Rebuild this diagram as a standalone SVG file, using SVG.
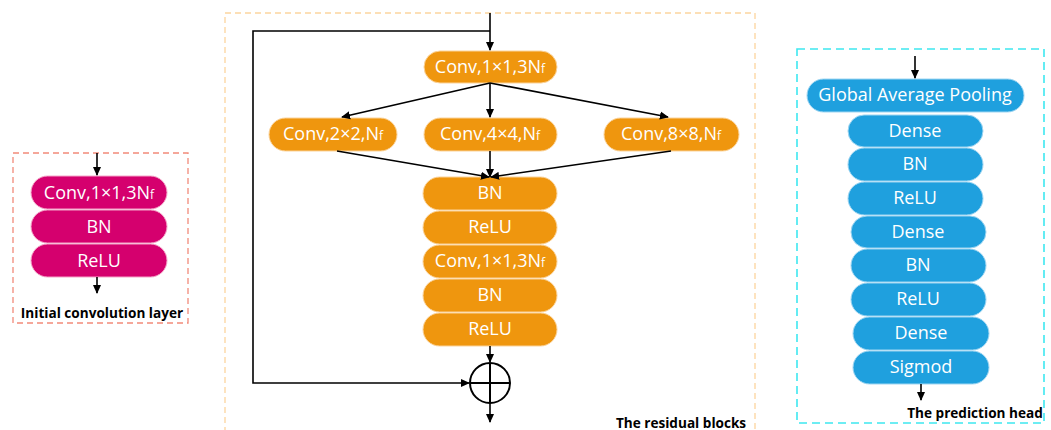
<svg xmlns="http://www.w3.org/2000/svg" width="1051" height="430" viewBox="0 0 1051 430">
<defs>
<marker id="ah" viewBox="0 0 10 10" refX="9" refY="5" markerWidth="9" markerHeight="9" markerUnits="userSpaceOnUse" orient="auto">
<path d="M0,0.5 L10,5 L0,9.5 z" fill="#000"/>
</marker>
<style>
.t{font-family:"Open Sans","Noto Sans",sans-serif;font-size:18px;fill:#fff;text-anchor:middle}
.s{font-size:12px}
.lab{font-family:"Open Sans","Noto Sans",sans-serif;font-size:13.6px;font-weight:bold;fill:#000;text-anchor:middle}
.pk{fill:#d5006e;stroke:#f4a6c8;stroke-width:1}
.or{fill:#ef960e;stroke:#fbd39a;stroke-width:1}
.bl{fill:#1fa0de;stroke:#9fd6f2;stroke-width:1}
.c{stroke:#000;stroke-width:1.6;fill:none}
</style>
</defs>
<rect width="1051" height="430" fill="#fff"/>
<!-- frames -->
<rect x="13" y="153" width="175" height="170" fill="none" stroke="#f28a7a" stroke-width="1.3" stroke-dasharray="6,4"/>
<rect x="225" y="13" width="530" height="430" fill="none" stroke="#fcd59e" stroke-width="1.3" stroke-dasharray="6,4"/>
<rect x="797" y="49" width="247" height="374" fill="none" stroke="#3ee8f0" stroke-width="1.6" stroke-dasharray="8,5"/>
<!-- initial -->
<g id="init-conv"><rect class="pk" x="31" y="176" width="136" height="33" rx="16.5"/><text class="t" x="99" y="199">Conv,1×1,3N<tspan class="s">f</tspan></text></g>
<g id="init-bn"><rect class="pk" x="31" y="210" width="136" height="33" rx="16.5"/><text class="t" x="99" y="233">BN</text></g>
<g id="init-relu"><rect class="pk" x="31" y="244" width="136" height="33" rx="16.5"/><text class="t" x="99" y="267">ReLU</text></g>
<text class="lab" x="102" y="318">Initial convolution layer</text>
<!-- residual -->
<g id="res-conv1"><rect class="or" x="424" y="51" width="133" height="32" rx="16"/><text class="t" x="490" y="73">Conv,1×1,3N<tspan class="s">f</tspan></text></g>
<g id="res-conv2"><rect class="or" x="269" y="118" width="128" height="33" rx="16.5"/><text class="t" x="333" y="140">Conv,2×2,N<tspan class="s">f</tspan></text></g>
<g id="res-conv4"><rect class="or" x="424" y="118" width="133" height="33" rx="16.5"/><text class="t" x="490" y="140">Conv,4×4,N<tspan class="s">f</tspan></text></g>
<g id="res-conv8"><rect class="or" x="604" y="118" width="135" height="33" rx="16.5"/><text class="t" x="671" y="140">Conv,8×8,N<tspan class="s">f</tspan></text></g>
<g id="res-bn1"><rect class="or" x="423" y="177" width="134" height="33" rx="16.5"/><text class="t" x="490" y="199">BN</text></g>
<g id="res-relu1"><rect class="or" x="423" y="211" width="134" height="33" rx="16.5"/><text class="t" x="490" y="233">ReLU</text></g>
<g id="res-conv5"><rect class="or" x="423" y="245" width="134" height="33" rx="16.5"/><text class="t" x="490" y="267">Conv,1×1,3N<tspan class="s">f</tspan></text></g>
<g id="res-bn2"><rect class="or" x="423" y="279" width="134" height="33" rx="16.5"/><text class="t" x="490" y="301">BN</text></g>
<g id="res-relu2"><rect class="or" x="423" y="313" width="134" height="33" rx="16.5"/><text class="t" x="490" y="335">ReLU</text></g>
<g id="res-add"><circle cx="490" cy="383" r="20" fill="#fff" stroke="#000" stroke-width="2"/><path d="M470,383 H510 M490,363 V403" stroke="#000" stroke-width="2"/></g>
<text class="lab" x="681" y="428">The residual blocks</text>
<!-- head -->
<g id="head-gap"><rect class="bl" x="807" y="79" width="217" height="33" rx="16.5"/><text class="t" x="915" y="101">Global Average Pooling</text></g>
<g id="head-dense1"><rect class="bl" x="848" y="115" width="135" height="32" rx="16"/><text class="t" x="915" y="137">Dense</text></g>
<g id="head-bn1"><rect class="bl" x="848" y="148" width="135" height="33" rx="16.5"/><text class="t" x="915" y="170">BN</text></g>
<g id="head-relu1"><rect class="bl" x="848" y="182" width="135" height="33" rx="16.5"/><text class="t" x="915" y="204">ReLU</text></g>
<g id="head-dense2"><rect class="bl" x="851" y="216" width="135" height="32" rx="16"/><text class="t" x="918" y="238">Dense</text></g>
<g id="head-bn2"><rect class="bl" x="851" y="249" width="135" height="33" rx="16.5"/><text class="t" x="918" y="271">BN</text></g>
<g id="head-relu2"><rect class="bl" x="851" y="283" width="135" height="33" rx="16.5"/><text class="t" x="918" y="305">ReLU</text></g>
<g id="head-dense3"><rect class="bl" x="853" y="317" width="136" height="33" rx="16.5"/><text class="t" x="921" y="339">Dense</text></g>
<g id="head-sig"><rect class="bl" x="853" y="351" width="136" height="33" rx="16.5"/><text class="t" x="921" y="373">Sigmod</text></g>
<text class="lab" x="975" y="418">The prediction head</text>
<!-- connectors -->
<g id="connectors">
<path class="c" d="M97,153 V175" marker-end="url(#ah)"/>
<path class="c" d="M97,277 V293" marker-end="url(#ah)"/>
<path class="c" d="M490,13 V50" marker-end="url(#ah)"/>
<path class="c" d="M490,31 H253 V383 H469" marker-end="url(#ah)"/>
<path class="c" d="M490,83 L342,117" marker-end="url(#ah)"/>
<path class="c" d="M490,83 V117" marker-end="url(#ah)"/>
<path class="c" d="M490,83 L668,117" marker-end="url(#ah)"/>
<path class="c" d="M337,151 L489,177" marker-end="url(#ah)"/>
<path class="c" d="M490,151 V177" marker-end="url(#ah)"/>
<path class="c" d="M671,151 L491,177" marker-end="url(#ah)"/>
<path class="c" d="M490,346 V362" marker-end="url(#ah)"/>
<path class="c" d="M490,403 V422" marker-end="url(#ah)"/>
<path class="c" d="M915,56 V78" marker-end="url(#ah)"/>
<path class="c" d="M921,384 V400" marker-end="url(#ah)"/>
</g>
</svg>
